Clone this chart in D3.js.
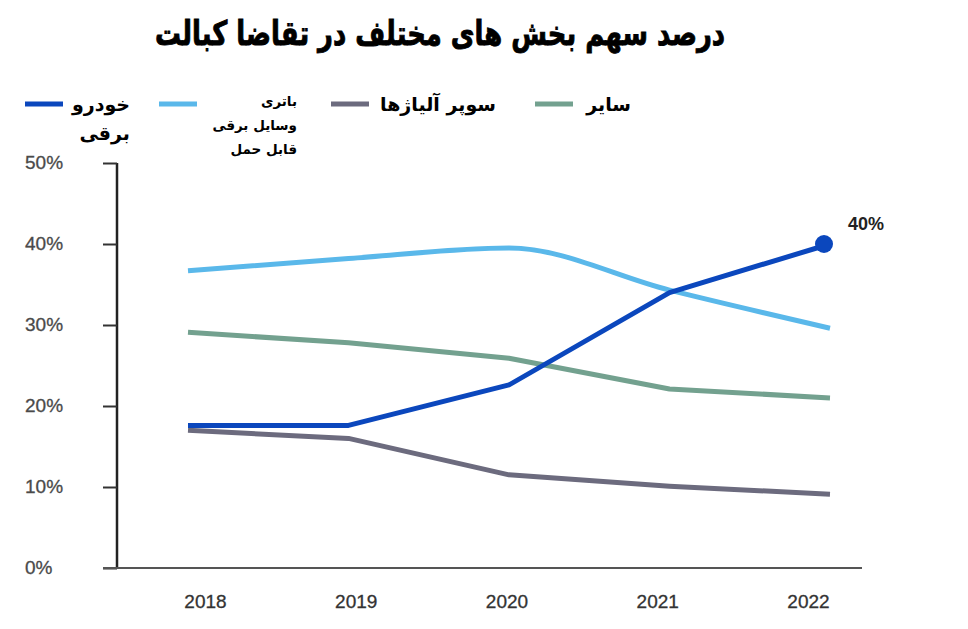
<!DOCTYPE html>
<html>
<head>
<meta charset="utf-8">
<script src="https://cdn.jsdelivr.net/npm/d3@7"></script>
<style>
  body { margin: 0; background: #fff; }
  svg { display: block; }
</style>
</head>
<body>
<div id="container"></div>
<script>
const years = ["2018", "2019", "2020", "2021", "2022"]
const yTicks = [0, 10, 20, 30, 40, 50]

const evValues = [17.6, 17.6, 22.6, 34.0, 40.0]
const batteryValues = [36.7, 38.2, 39.5, 34.3, 29.6]
const superalloyValues = [17.0, 16.0, 11.5, 10.1, 9.1]
const otherValues = [29.1, 27.8, 25.9, 22.1, 21.0]

const seriesNames = [["خودرو", "برقی"], ["باتری", "وسایل برقی", "قابل حمل"], ["سوپر آلیاژها"], ["سایر"]]
const seriesColors = ["#0b47bd", "#5ab8ea", "#6c6b7e", "#73a18f"]

const title = "درصد سهم بخش های مختلف در تقاضا کبالت"
const faFont = "'DejaVu Sans', sans-serif"
const numFont = "'Liberation Sans', Arial, sans-serif"

const width = 968
const height = 629

const svg = d3.select("#container").append("svg")
    .attr("width", width).attr("height", height)

// title, fitted to the reference width and stretched a bit taller
const titleText = svg.append("text")
    .attr("transform", "translate(440,45) scale(1,1.3)")
    .attr("text-anchor", "middle")
    .attr("font-family", faFont)
    .attr("font-weight", "bold")
    .attr("font-size", 30)
    .attr("fill", "#000")
    .attr("stroke", "#000").attr("stroke-width", 0.7)
    .text(title)
const tw = titleText.node().getComputedTextLength()
titleText.attr("font-size", 30 * 570 / tw)

// scales
const yScale = d3.scaleLinear().domain([0, 50]).range([568, 163])
const xLine = d3.scalePoint().domain(years).range([188, 830])
const xLabel = d3.scalePoint().domain(years).range([205, 808])

// y axis
const yAxis = svg.append("g").attr("transform", "translate(117,0)")
    .call(d3.axisLeft(yScale).tickValues(yTicks).tickSize(14).tickFormat(d => d + "%"))
yAxis.select(".domain").attr("stroke", "#222").attr("stroke-width", 2.5)
    .attr("d", "M0," + yScale(50) + "V" + yScale(0))
yAxis.selectAll(".tick line").attr("stroke", "#333").attr("stroke-width", 2)
yAxis.selectAll(".tick text")
    .attr("x", -92).attr("text-anchor", "start")
    .attr("font-family", numFont).attr("font-size", 19)
    .attr("fill", "#4a4a4a").attr("dy", "0.3em")
    .attr("stroke", "#4a4a4a").attr("stroke-width", 0.3)

// x baseline + year labels
const xAxis = svg.append("g").attr("transform", "translate(0," + yScale(0) + ")")
    .call(d3.axisBottom(xLabel).tickSize(0).tickPadding(27))
xAxis.select(".domain").attr("stroke", "#555").attr("stroke-width", 2)
    .attr("d", "M103,0H862")
xAxis.selectAll(".tick text")
    .attr("font-family", numFont).attr("font-size", 19).attr("fill", "#333")
    .attr("stroke", "#333").attr("stroke-width", 0.3)

// lines
const allSeries = [evValues, batteryValues, superalloyValues, otherValues]
const seriesCurves = [d3.curveLinear, d3.curveMonotoneX, d3.curveLinear, d3.curveLinear]

const drawOrder = [1, 3, 2, 0]
drawOrder.forEach(k => {
    const line = d3.line()
        .x((d, i) => xLine(years[i]))
        .y(d => yScale(d))
        .curve(seriesCurves[k])
    svg.append("path")
        .datum(allSeries[k])
        .attr("d", line)
        .attr("fill", "none")
        .attr("stroke", seriesColors[k])
        .attr("stroke-width", 5)
        .attr("stroke-linejoin", "round")
})

// end dot + label for EV
const last = evValues.length - 1
svg.append("circle")
    .attr("cx", xLine(years[last]) - 6).attr("cy", yScale(evValues[last]))
    .attr("r", 9).attr("fill", seriesColors[0])
svg.append("text")
    .attr("x", xLine(years[last]) + 18).attr("y", yScale(evValues[last]) - 14)
    .attr("font-family", numFont).attr("font-weight", "bold")
    .attr("font-size", 18).attr("fill", "#222")
    .text(evValues[last] + "%")

// legend
const legendItems = [
    { sx: 25, tx: 130, bold: true, size: 19, lh: 29, y0: 111 },
    { sx: 159, tx: 297, bold: true, size: 13.5, lh: 24, y0: 106 },
    { sx: 331, tx: 496, bold: true, size: 19, lh: 29, y0: 111 },
    { sx: 535, tx: 631, bold: true, size: 19, lh: 29, y0: 111 }
]
legendItems.forEach((it, k) => {
    svg.append("line")
        .attr("x1", it.sx).attr("x2", it.sx + 38)
        .attr("y1", 104).attr("y2", 104)
        .attr("stroke", seriesColors[k]).attr("stroke-width", 5)
    const t = svg.append("text")
        .attr("text-anchor", "end")
        .attr("font-family", faFont)
        .attr("font-weight", it.bold ? "bold" : "normal")
        .attr("font-size", it.size)
        .attr("fill", "#000")
    seriesNames[k].forEach((s, j) => {
        t.append("tspan")
            .attr("x", it.tx).attr("y", it.y0 + j * it.lh)
            .text(s)
    })
})
</script>
</body>
</html>
